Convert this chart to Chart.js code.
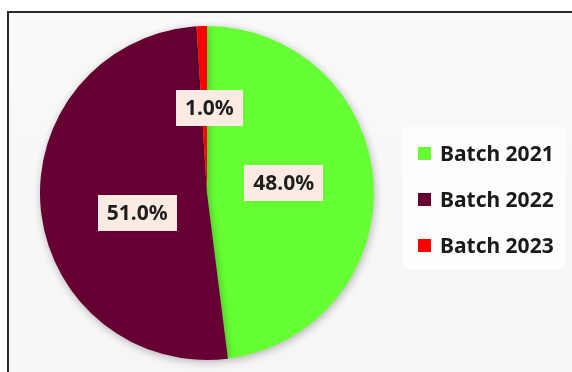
<!DOCTYPE html>
<html>
<head>
<meta charset="utf-8">
<script src="https://cdn.jsdelivr.net/npm/chart.js@4"></script>
<style>
  html, body { margin: 0; padding: 0; background: #ffffff; }
  #wrap { position: relative; width: 572px; height: 372px; overflow: hidden; background: #ffffff; }
  #frame {
    position: absolute; left: 7px; top: 11px; width: 580px; height: 380px;
    border: 2px solid #2a2a2a; box-sizing: border-box;
    background: linear-gradient(180deg, #f9f9f9 0%, #f6f6f6 100%);
  }
  #legendBox {
    position: absolute; left: 403px; top: 127px; width: 162px; height: 142px;
    background: #fdfdfd;
  }
  canvas { position: absolute; left: 0; top: 0; }
</style>
</head>
<body>
<div id="wrap">
  <div id="frame"></div>
  <div id="legendBox"></div>
  <canvas id="c" width="572" height="372"></canvas>
</div>
<script>
// Share of students per batch (percent)
const batches = ['Batch 2021', 'Batch 2022', 'Batch 2023'];
const shares = [48.0, 51.0, 1.0];
const sliceColors = ['#66ff33', '#660033', '#ff0000'];

// Soft drop shadow beneath the pie
const pieShadow = {
  id: 'pieShadow',
  beforeDatasetsDraw(chart) {
    const ctx = chart.ctx;
    ctx.save();
    ctx.shadowColor = 'rgba(0,0,0,0.28)';
    ctx.shadowBlur = 9;
    ctx.shadowOffsetX = 1;
    ctx.shadowOffsetY = 2;
  },
  afterDatasetsDraw(chart) {
    chart.ctx.restore();
  }
};

// Percentage labels in light boxes inside each slice
const sliceLabels = {
  id: 'sliceLabels',
  afterDatasetsDraw(chart, args, opts) {
    const ctx = chart.ctx;
    const meta = chart.getDatasetMeta(0);
    ctx.save();
    ctx.font = 'bold 21px "Noto Sans", sans-serif';
    ctx.textAlign = 'center';
    ctx.textBaseline = 'middle';
    meta.data.forEach((arc, i) => {
      const p = arc.getProps(['x', 'y', 'startAngle', 'endAngle', 'outerRadius'], true);
      const mid = (p.startAngle + p.endAngle) / 2;
      const r = p.outerRadius * opts.radial[i];
      const cx = p.x + Math.cos(mid) * r + opts.shift[i][0];
      const cy = p.y + Math.sin(mid) * r + opts.shift[i][1];
      const text = chart.data.datasets[0].data[i].toFixed(1) + '%';
      const w = ctx.measureText(text).width + 18;
      const h = 36;
      ctx.fillStyle = '#fcebe3';
      ctx.fillRect(Math.round(cx - w / 2), Math.round(cy - h / 2), Math.round(w), h);
      ctx.fillStyle = '#1e1e1e';
      ctx.fillText(text, cx, cy + 1);
    });
    ctx.restore();
  }
};

// Legend drawn at the right of the pie
const sideLegend = {
  id: 'sideLegend',
  afterDraw(chart, args, opts) {
    const ctx = chart.ctx;
    ctx.save();
    ctx.font = 'bold 21px "Noto Sans", sans-serif';
    ctx.textBaseline = 'middle';
    ctx.textAlign = 'left';
    chart.data.labels.forEach((lab, i) => {
      const y = opts.top + i * opts.step;
      ctx.fillStyle = chart.data.datasets[0].backgroundColor[i];
      ctx.fillRect(opts.left, y - 7, 13, 13);
      ctx.fillStyle = '#1a1a1a';
      ctx.fillText(lab, opts.left + 22, y + 1);
    });
    ctx.restore();
  }
};

new Chart(document.getElementById('c'), {
  type: 'pie',
  data: {
    labels: batches,
    datasets: [{
      data: shares,
      backgroundColor: sliceColors,
      borderWidth: 0
    }]
  },
  options: {
    responsive: false,
    animation: false,
    layout: { padding: { left: 40, right: 198, top: 26, bottom: 12 } },
    plugins: {
      legend: { display: false },
      tooltip: { enabled: false },
      sliceLabels: {
        radial: [0.46, 0.42, 0.51],
        shift: [[0, -5], [0, 13], [5, 0]]
      },
      sideLegend: { left: 418, top: 154, step: 46 }
    }
  },
  plugins: [pieShadow, sliceLabels, sideLegend]
});
</script>
</body>
</html>
